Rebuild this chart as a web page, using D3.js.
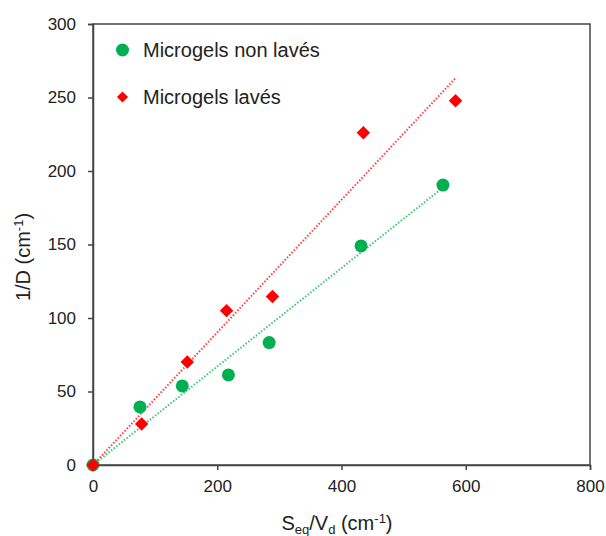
<!DOCTYPE html>
<html><head><meta charset="utf-8">
<script src="https://cdn.jsdelivr.net/npm/d3@7"></script>
<style>body{margin:0;background:#fff;} svg{display:block;font-family:"Liberation Sans",Arial,sans-serif;}</style>
</head><body>
<svg id="c" width="606" height="536"></svg>
<script>
const xTicks = [0, 200, 400, 600, 800];
const yTicks = [0, 50, 100, 150, 200, 250, 300];
const greenX = [0, 75.6, 143.7, 218, 283.6, 431.5, 563.3];
const greenY = [0, 39.5, 53.8, 61.3, 83.3, 149, 190.4];
const redX = [0, 78.3, 151.8, 215, 288.9, 435.2, 583.6];
const redY = [0, 27.9, 70.1, 105, 114.6, 226, 247.8];
const greenSlope = 0.335;
const redSlope = 0.451;
const seriesNames = ["Microgels non lavés", "Microgels lavés"];

const svg = d3.select("#c");
const m = {l: 93, r: 590, t: 24, b: 465};
const x = d3.scaleLinear().domain([0, 800]).range([m.l, m.r]);
const y = d3.scaleLinear().domain([0, 300]).range([m.b, m.t]);
const axisCol = "#444";

// frame
svg.append("rect").attr("x", m.l).attr("y", m.t).attr("width", m.r - m.l).attr("height", m.b - m.t)
  .attr("fill", "none").attr("stroke", axisCol).attr("stroke-width", 1.5);

const xa = svg.append("g").attr("transform", `translate(0,${m.b})`)
  .call(d3.axisBottom(x).tickValues(xTicks).tickSize(5).tickPadding(10).tickFormat(d3.format("d")));
const ya = svg.append("g").attr("transform", `translate(${m.l},0)`)
  .call(d3.axisLeft(y).tickValues(yTicks).tickSize(5).tickPadding(12).tickFormat(d3.format("d")));
[xa, ya].forEach(a => {
  a.select(".domain").attr("stroke", axisCol).attr("stroke-width", 1.5);
  a.selectAll(".tick line").attr("stroke", axisCol).attr("stroke-width", 1.5);
  a.selectAll(".tick text").attr("fill", "#222").style("font-size", "17px").style("font-family", "Liberation Sans, Arial, sans-serif");
});

// trend lines
function trend(xs, slope, col) {
  const xm = d3.max(xs);
  svg.append("line").attr("x1", x(0)).attr("y1", y(0)).attr("x2", x(xm)).attr("y2", y(slope * xm))
    .attr("stroke", col).attr("stroke-width", 2).attr("stroke-dasharray", "1.5,1.8");
}
trend(greenX, greenSlope, "#3cc878");
trend(redX, redSlope, "#ff4040");

// points
const green = greenX.map((v, i) => [v, greenY[i]]);
const red = redX.map((v, i) => [v, redY[i]]);
svg.append("g").selectAll("circle").data(green).join("circle")
  .attr("cx", d => x(d[0])).attr("cy", d => y(d[1])).attr("r", 6.5).attr("fill", "#00b050");
const dia = d3.symbol().type(d3.symbolDiamond2).size(115);
svg.append("g").selectAll("path").data(red).join("path")
  .attr("d", dia).attr("transform", d => `translate(${x(d[0])},${y(d[1])})`).attr("fill", "#ff0000");

// legend
svg.append("circle").attr("cx", 122.5).attr("cy", 50).attr("r", 6.5).attr("fill", "#00b050");
svg.append("path").attr("d", d3.symbol().type(d3.symbolDiamond2).size(80)).attr("transform", "translate(122.5,97)").attr("fill", "#ff0000");
svg.append("text").attr("x", 143).attr("y", 56.5).text(seriesNames[0]).style("font-size", "20px").attr("fill", "#222");
svg.append("text").attr("x", 143).attr("y", 103.5).text(seriesNames[1]).style("font-size", "20px").attr("fill", "#222");

// axis titles
const xt = svg.append("text").attr("x", 337).attr("y", 530).attr("text-anchor", "middle").style("font-size", "20px").attr("fill", "#222");
xt.append("tspan").text("S");
xt.append("tspan").text("eq").style("font-size", "13px").attr("dy", 4);
xt.append("tspan").text("/V").attr("dy", -4);
xt.append("tspan").text("d").style("font-size", "13px").attr("dy", 4);
xt.append("tspan").text(" (cm").attr("dy", -4);
xt.append("tspan").text("-1").style("font-size", "13px").attr("dy", -7);
xt.append("tspan").text(")").attr("dy", 7);

const yt = svg.append("text").attr("transform", "translate(30,257) rotate(-90)").attr("text-anchor", "middle").style("font-size", "20px").attr("fill", "#222");
yt.append("tspan").text("1/D (cm");
yt.append("tspan").text("-1").style("font-size", "13px").attr("dy", -7);
yt.append("tspan").text(")").attr("dy", 7);
</script>
</body></html>
